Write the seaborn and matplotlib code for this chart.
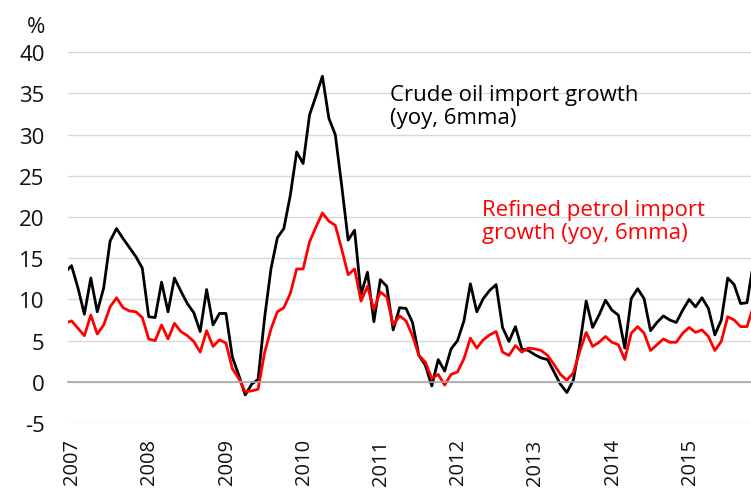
import numpy as np
import pandas as pd
import matplotlib
matplotlib.use("Agg")
import matplotlib.pyplot as plt
import matplotlib.transforms as mtransforms
import seaborn as sns

# ---- data (monthly, 6mma yoy %, starting Dec 2006) ----
start_year = 2006
start_month = 12
crude = [13.3,
         14.1, 11.4, 8.2, 12.6, 8.5, 11.4, 17.1, 18.6, 17.4, 16.3, 15.2, 13.8,
         7.9, 7.8, 12.1, 8.5, 12.6, 11.0, 9.5, 8.4, 6.1, 11.2, 6.9, 8.3,
         8.3, 3.0, 0.8, -1.6, -0.3, 0.3, 7.7, 13.7, 17.5, 18.6, 22.6, 27.9,
         26.5, 32.4, 34.7, 37.1, 32.0, 30.0, 23.8, 17.2, 18.4, 10.6, 13.3, 7.3,
         12.4, 11.6, 6.3, 9.0, 8.9, 7.2, 3.2, 2.0, -0.5, 2.7, 1.3, 4.0,
         5.0, 7.4, 11.9, 8.5, 10.1, 11.1, 11.8, 6.6, 4.9, 6.7, 4.0, 3.8,
         3.3, 2.9, 2.7, 1.2, -0.3, -1.3, 0.2, 4.5, 9.8, 6.6, 8.1, 9.9,
         8.7, 8.1, 4.1, 10.1, 11.3, 10.1, 6.2, 7.2, 8.0, 7.5, 7.2, 8.7,
         10.0, 9.1, 10.2, 8.9, 5.7, 7.5, 12.6, 11.8, 9.5, 9.6, 14.5]
refined = [7.1,
           7.4, 6.5, 5.6, 8.1, 5.8, 6.9, 9.1, 10.2, 9.0, 8.6, 8.5, 7.8,
           5.2, 5.0, 6.9, 5.2, 7.1, 6.1, 5.6, 4.9, 3.6, 6.2, 4.3, 5.1,
           4.7, 1.6, 0.4, -1.2, -1.1, -0.9, 3.5, 6.4, 8.5, 9.0, 10.7, 13.7,
           13.7, 17.0, 18.8, 20.5, 19.5, 19.0, 16.1, 13.0, 13.7, 9.8, 11.6, 8.8,
           10.9, 10.3, 6.9, 8.0, 7.4, 5.6, 3.2, 2.4, 0.4, 0.9, -0.4, 0.9,
           1.2, 2.8, 5.3, 4.1, 5.1, 5.7, 6.1, 3.6, 3.2, 4.4, 3.6, 4.1,
           4.0, 3.8, 3.2, 2.1, 0.9, 0.2, 1.1, 3.7, 6.0, 4.3, 4.8, 5.5,
           4.8, 4.5, 2.7, 5.9, 6.7, 5.9, 3.8, 4.5, 5.2, 4.8, 4.8, 5.9,
           6.6, 6.0, 6.3, 5.5, 3.8, 4.9, 7.9, 7.5, 6.7, 6.7, 9.2]
years = list(range(2007, 2016))
year_labels = [str(y) for y in years]
yticks = list(range(-5, 45, 5))
series_names = ["Crude oil import growth\n(yoy, 6mma)",
                "Refined petrol import\ngrowth (yoy, 6mma)"]
colors = ["#000000", "#ff0000"]

# ---- build table ----
n = len(crude)
t = start_year + (start_month - 1 + np.arange(n) + 0.5) / 12.0
df = pd.DataFrame({
    "t": np.concatenate([t, t]),
    "value": np.array(crude + refined),
    "series": [series_names[0]] * n + [series_names[1]] * n,
})

sns.set_style("white")
plt.rcParams["font.family"] = ["Open Sans", "DejaVu Sans"]

fig = plt.figure(figsize=(7.51, 4.89), dpi=100)
ax = fig.add_axes([68.3 / 751, 65 / 489, 1 - 68.3 / 751, (424 - 53.3) / 489])

sns.lineplot(data=df, x="t", y="value", hue="series",
             palette=dict(zip(series_names, colors)), legend=False,
             linewidth=2.0, sort=False, ax=ax)

ax.set_xlim(2007, 2007 + (751 - 68.3) / 77.2)
ax.set_ylim(-5, 40)
ax.set_xlabel("")
ax.set_ylabel("")

ax.set_yticks(yticks)
ax.set_yticklabels([str(v) for v in yticks])
ax.tick_params(axis="y", length=0, pad=17, labelsize=16, labelcolor="#111111")
ax.yaxis.grid(True, color="#d9d9d9", linewidth=1)
ax.xaxis.grid(False)
ax.set_axisbelow(True)

for s in ["left", "top", "right"]:
    ax.spines[s].set_visible(False)
ax.spines["bottom"].set_position(("data", 0))
ax.spines["bottom"].set_color("#a6a6a6")
ax.spines["bottom"].set_linewidth(1.2)
ax.set_xticks(years)
ax.tick_params(axis="x", direction="out", length=5, width=1.2,
               color="#a6a6a6", labelbottom=False)

sec = ax.secondary_xaxis("bottom")
sec.set_xticks(years)
sec.set_xticklabels(year_labels, rotation=90)
sec.tick_params(length=0, pad=11, labelsize=14.5, labelcolor="#111111")
sec.spines["bottom"].set_visible(False)
shift = mtransforms.ScaledTranslation(4 / 100, 0, fig.dpi_scale_trans)
for lab in sec.get_xticklabels():
    lab.set_transform(lab.get_transform() + shift)

fig.text(27 / 751, 1 - 33 / 489, "%", fontsize=16, color="#111111",
         ha="left", va="baseline")
fig.text(390 / 751, 1 - 85 / 489, series_names[0], fontsize=16,
         color=colors[0], ha="left", va="top", linespacing=1.1)
fig.text(482 / 751, 1 - 200 / 489, series_names[1], fontsize=16,
         color=colors[1], ha="left", va="top", linespacing=1.1)

fig.savefig("out.png", dpi=100)
